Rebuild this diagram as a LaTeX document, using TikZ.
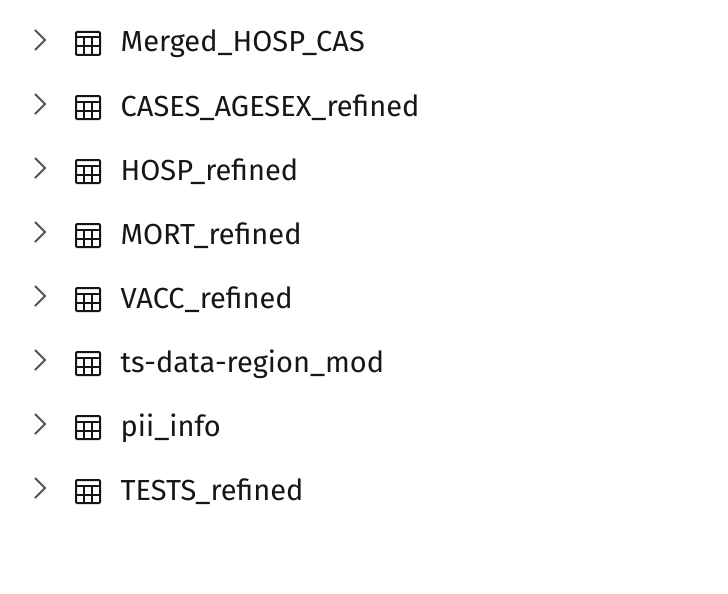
\documentclass[tikz,border=0pt]{standalone}
\usepackage{fontspec}
\setmainfont{Fira Sans}
\definecolor{chevgray}{HTML}{525252}
\definecolor{inkblack}{HTML}{161616}
\tikzset{
  rowlabel/.style={anchor=base west,inner sep=0pt,text=inkblack,font=\fontsize{29}{32}\selectfont},
  chevline/.style={draw=chevgray,line width=2pt},
  iconline/.style={draw=inkblack,line width=2pt},
}
\begin{document}
\begin{tikzpicture}[x=1pt,y=-1pt]
\useasboundingbox (0,0) rectangle (728,594);
\foreach \i/\rowname in {0/Merged\_HOSP\_CAS,1/CASES\_AGESEX\_refined,2/HOSP\_refined,3/MORT\_refined,4/VACC\_refined,5/ts-data-region\_mod,6/pii\_info,7/TESTS\_refined} {
  \begin{scope}[yshift=-64*\i pt]
  \draw[chevline] (35,30) -- (45,40) -- (35,50);
  \draw[iconline,rounded corners=1pt] (76,32) rectangle (100,55);
  \draw[iconline] (76,37.5) -- (100,37.5) (76,46.5) -- (100,46.5)
    (84,37.5) -- (84,55) (92,37.5) -- (92,55);
  \node[rowlabel] (row\i) at (120.5,52) {\rowname};
  \end{scope}
}
\end{tikzpicture}
\end{document}
